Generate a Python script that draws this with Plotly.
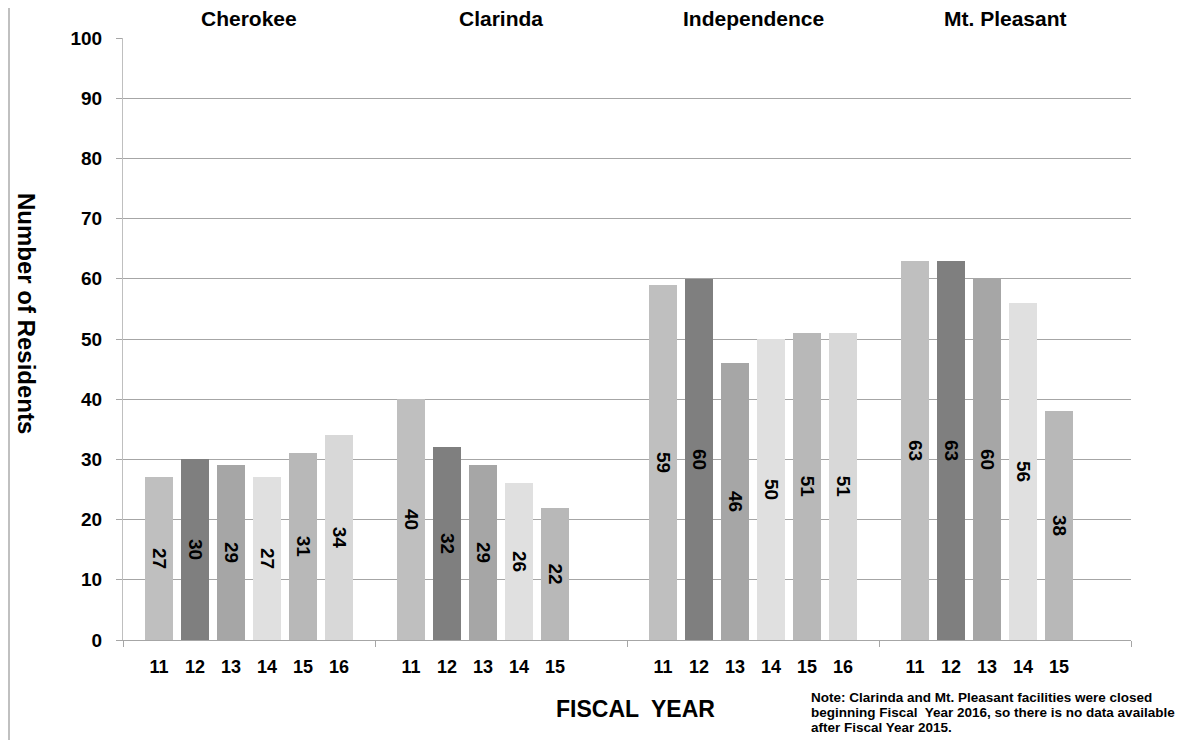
import plotly.graph_objects as go

facilities = ["Cherokee", "Clarinda", "Independence", "Mt. Pleasant"]
years = ["11", "12", "13", "14", "15", "16"]
fy11 = [27, 40, 59, 63]
fy12 = [30, 32, 60, 63]
fy13 = [29, 29, 46, 60]
fy14 = [27, 26, 50, 56]
fy15 = [31, 22, 51, 38]
fy16 = [34, None, 51, None]
series = [fy11, fy12, fy13, fy14, fy15, fy16]
colors = ["#bfbfbf", "#7f7f7f", "#a6a6a6", "#e0e0e0", "#b8b8b8", "#d8d8d8"]
note_lines = [
    "Note: Clarinda and Mt. Pleasant facilities were closed",
    "beginning Fiscal  Year 2016, so there is no data available",
    "after Fiscal Year 2015.",
]

FONT = "Arial, Liberation Sans, sans-serif"
slots = len(years) + 1
# page has an 8px body margin; the figure is sized to fit the window
W, H = 1190, 732
ML, MR, MT, MB = 115, 67, 30, 100
PW, PH = W - ML - MR, H - MT - MB
PAGE_L, PAGE_T = 8 + ML, 8 + MT   # plot-area origin in window pixels

fig = go.Figure()
tickvals, ticktext = [], []
for j, (yr, vals) in enumerate(zip(years, series)):
    xs = [i + (j - (len(years) - 1) / 2) / slots for i in range(len(facilities))]
    xv = [x for x, v in zip(xs, vals) if v is not None]
    yv = [v for v in vals if v is not None]
    tickvals += xv
    ticktext += [yr] * len(xv)
    fig.add_trace(go.Bar(
        x=xv, y=yv, width=0.76 / slots,
        marker=dict(color=colors[j], line=dict(width=0)),
        text=[str(v) for v in yv], textposition="inside",
        insidetextanchor="middle", textangle=90, constraintext="none",
        textfont=dict(family=FONT, size=19, color="black", weight="bold"),
        name="FY" + yr, showlegend=False, hoverinfo="x+y",
    ))

annotations = []
for i, f in enumerate(facilities):
    annotations.append(dict(
        x=i, xref="x", y=1, yref="paper", yanchor="middle", yshift=20,
        text="<b>%s</b>" % f, showarrow=False,
        font=dict(family=FONT, size=21, color="black")))
annotations.append(dict(
    x=0, xref="paper", xshift=27 - PAGE_L, xanchor="center",
    y=(PH - (313 - PAGE_T)) / PH, yref="paper", yanchor="middle",
    text="<b>Number of Residents</b>", textangle=90, showarrow=False,
    font=dict(family=FONT, size=24, color="black")))
annotations.append(dict(
    x=(635 - PAGE_L) / PW, xref="paper", xanchor="center",
    y=0, yref="paper", yanchor="middle", yshift=-69,
    text="<b>FISCAL  YEAR</b>", showarrow=False,
    font=dict(family=FONT, size=23, color="black")))
for k, line in enumerate(note_lines):
    annotations.append(dict(
        x=(809 - PAGE_L) / PW, xref="paper", xanchor="left",
        y=0, yref="paper", yanchor="middle", yshift=-(57 + 15 * k),
        align="left", text="<b>%s</b>" % line, showarrow=False,
        font=dict(family=FONT, size=13.5, color="black")))

fig.update_layout(
    width=W, height=H,
    margin=dict(l=ML, r=MR, t=MT, b=MB),
    paper_bgcolor="white", plot_bgcolor="white",
    bargap=0,
    annotations=annotations,
    shapes=[dict(type="line", xref="paper", yref="paper",
                 x0=(1 - ML) / PW, x1=(1 - ML) / PW,
                 y0=-MB / PH, y1=(PH + MT) / PH,
                 line=dict(color="#c0c0c0", width=2))],
    xaxis=dict(
        range=[-0.5, len(facilities) - 0.5],
        tickmode="array", tickvals=tickvals, ticktext=ticktext,
        ticks="", showgrid=False, zeroline=False,
        showline=True, linecolor="#a6a6a6", linewidth=1,
        tickfont=dict(family=FONT, size=18, color="black", weight="bold"),
        ticklabelstandoff=10,
        minor=dict(tickmode="array",
                   tickvals=[i - 0.5 for i in range(len(facilities) + 1)],
                   ticks="outside", ticklen=6, tickcolor="#a6a6a6", showgrid=False),
    ),
    yaxis=dict(
        range=[0, 100], dtick=10, tick0=0,
        showgrid=True, gridcolor="#a6a6a6", gridwidth=1,
        zeroline=False, showline=True, linecolor="#bfbfbf", linewidth=1,
        ticks="outside", ticklen=6, tickcolor="#a6a6a6",
        tickfont=dict(family=FONT, size=19, color="black", weight="bold"),
        ticklabelstandoff=10,
    ),
)

fig.write_html("out.html")
